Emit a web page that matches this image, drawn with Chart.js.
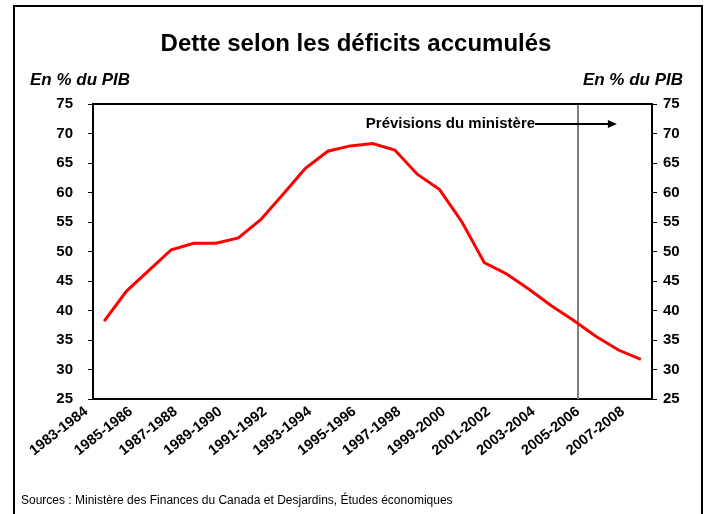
<!DOCTYPE html>
<html>
<head>
<meta charset="utf-8">
<script src="https://cdn.jsdelivr.net/npm/chart.js@4/dist/chart.umd.min.js"></script>
<style>
  html, body { margin: 0; padding: 0; background: #fff; }
  #wrap { width: 704px; height: 514px; position: relative; }
</style>
</head>
<body>
<div id="wrap"><canvas id="c" width="704" height="514"></canvas></div>
<script>
// ---- Data ----
const categories = [
  '1983-1984','1984-1985','1985-1986','1986-1987','1987-1988','1988-1989',
  '1989-1990','1990-1991','1991-1992','1992-1993','1993-1994','1994-1995',
  '1995-1996','1996-1997','1997-1998','1998-1999','1999-2000','2000-2001',
  '2001-2002','2002-2003','2003-2004','2004-2005','2005-2006','2006-2007',
  '2007-2008'
];
const debtToGdp = [
  38.2, 43.3, 46.8, 50.3, 51.4, 51.4, 52.3, 55.4, 59.7, 64.1, 67.0, 67.9,
  68.3, 67.2, 63.1, 60.5, 55.0, 48.1, 46.2, 43.6, 40.8, 38.3, 35.6, 33.3, 31.7
];
const yMin = 25, yMax = 75, yStep = 5;
// forecast marker (category index units) and annotation anchor (index, value)
const forecastLineAt = 21.2;
const forecastLabel = 'Prévisions du ministère';
const forecastArrowFrom = 19.27, forecastArrowTo = 22.93, forecastArrowValue = 71.6;

const titleText = 'Dette selon les déficits accumulés';
const unitText = 'En % du PIB';
const sourceText = 'Sources : Ministère des Finances du Canada et Desjardins, Études économiques';

const FONT = '"Liberation Sans", Arial, sans-serif';

const decorations = {
  id: 'decorations',
  beforeDatasetsDraw(chart) {
    const ctx = chart.ctx, a = chart.chartArea, xs = chart.scales.x;
    const x = Math.round(xs.getPixelForValue(forecastLineAt));
    ctx.save();
    ctx.strokeStyle = '#7f7f7f';
    ctx.lineWidth = 2;
    ctx.beginPath();
    ctx.moveTo(x, a.top);
    ctx.lineTo(x, a.bottom);
    ctx.stroke();
    ctx.restore();
  },
  afterDraw(chart) {
    const ctx = chart.ctx, a = chart.chartArea, xs = chart.scales.x, ys = chart.scales.y;
    ctx.save();
    // outer frame
    ctx.strokeStyle = '#000';
    ctx.lineWidth = 2;
    ctx.strokeRect(14, 6, 688, 530);
    // plot top border
    ctx.beginPath();
    ctx.moveTo(a.left, a.top);
    ctx.lineTo(a.right, a.top);
    ctx.stroke();
    // title
    ctx.fillStyle = '#000';
    ctx.textBaseline = 'middle';
    ctx.textAlign = 'center';
    ctx.font = 'bold 24px ' + FONT;
    ctx.fillText(titleText, 356, 44);
    // unit labels
    ctx.font = 'italic bold 17px ' + FONT;
    ctx.textAlign = 'left';
    ctx.fillText(unitText, 30, 80);
    ctx.textAlign = 'right';
    ctx.fillText(unitText, 683, 80);
    // source
    ctx.font = '12px ' + FONT;
    ctx.textAlign = 'left';
    ctx.fillText(sourceText, 21, 501);
    // forecast annotation
    const x0 = xs.getPixelForValue(forecastArrowFrom);
    const x1 = xs.getPixelForValue(forecastArrowTo);
    const yy = Math.round(ys.getPixelForValue(forecastArrowValue));
    ctx.font = 'bold 15px ' + FONT;
    ctx.textAlign = 'right';
    ctx.fillText(forecastLabel, x0, yy);
    ctx.lineWidth = 2;
    ctx.beginPath();
    ctx.moveTo(x0, yy);
    ctx.lineTo(x1 - 7, yy);
    ctx.stroke();
    ctx.beginPath();
    ctx.moveTo(x1, yy);
    ctx.lineTo(x1 - 9, yy - 4);
    ctx.lineTo(x1 - 9, yy + 4);
    ctx.closePath();
    ctx.fill();
    ctx.restore();
  }
};

const yTickFont = { family: FONT, size: 15, weight: 'bold' };

new Chart(document.getElementById('c'), {
  type: 'line',
  data: {
    labels: categories,
    datasets: [{
      data: debtToGdp,
      borderColor: '#ff0000',
      borderWidth: 3,
      pointRadius: 0,
      tension: 0,
      fill: false
    }]
  },
  options: {
    responsive: false,
    animation: false,
    devicePixelRatio: 1,
    layout: { padding: { top: 104, left: 0, right: 0, bottom: 0 } },
    plugins: { legend: { display: false }, title: { display: false }, tooltip: { enabled: false } },
    scales: {
      x: {
        type: 'category',
        offset: true,
        afterFit(s) { s.height = 115; },
        grid: { display: false, drawTicks: false, offset: true },
        border: { display: true, color: '#000', width: 2 },
        ticks: {
          autoSkip: false,
          maxRotation: 38,
          minRotation: 38,
          padding: 4,
          labelOffset: -18,
          color: '#000',
          font: { family: FONT, size: 14.5, weight: 'bold' },
          callback(v, i) { return i % 2 === 0 ? categories[i] : ''; }
        }
      },
      y: {
        position: 'left',
        min: yMin, max: yMax,
        afterFit(s) { s.width = 93; },
        grid: { drawOnChartArea: false, drawTicks: true, tickLength: 5, color: '#000', lineWidth: 1 },
        border: { display: true, color: '#000', width: 2 },
        ticks: { stepSize: yStep, padding: 15, color: '#000', font: yTickFont }
      },
      y2: {
        position: 'right',
        display: true,
        min: yMin, max: yMax,
        afterFit(s) { s.width = 52; },
        grid: { drawOnChartArea: false, drawTicks: true, tickLength: 5, color: '#000', lineWidth: 1 },
        border: { display: true, color: '#000', width: 2 },
        ticks: { stepSize: yStep, padding: 6, color: '#000', font: yTickFont }
      }
    }
  },
  plugins: [decorations]
});
</script>
</body>
</html>
